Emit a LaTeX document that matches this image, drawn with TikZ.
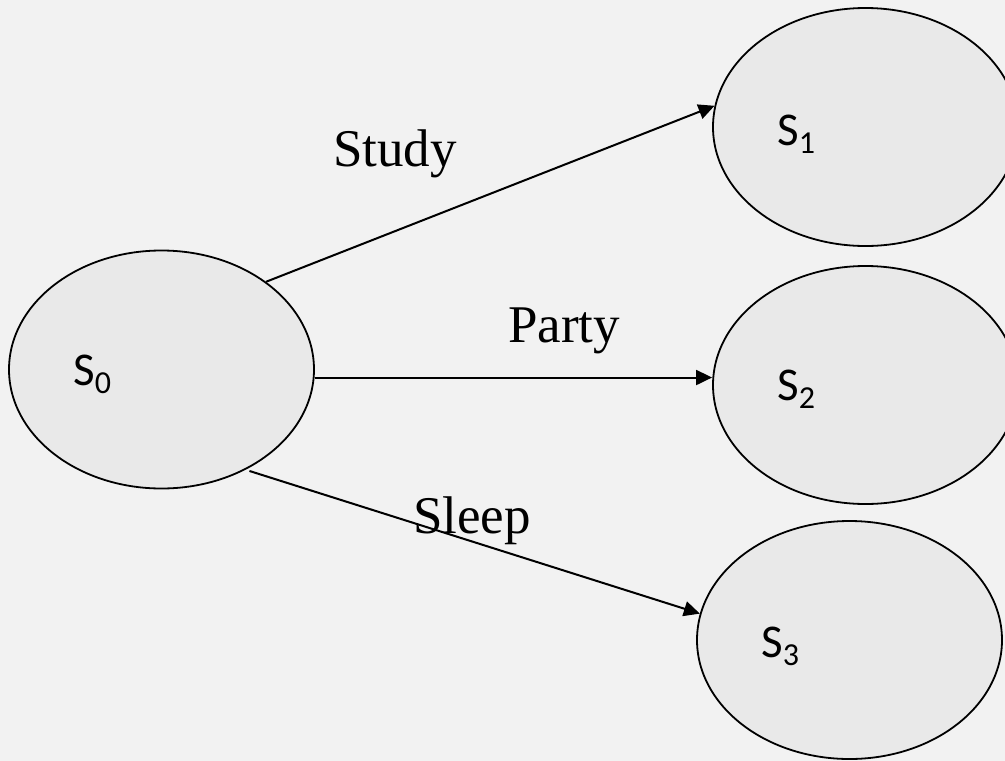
\documentclass[tikz,border=0pt]{standalone}
\usepackage{fontspec}
\setmainfont{Liberation Serif}
\newfontfamily\statefont{Carlito}
\usetikzlibrary{shapes.geometric,arrows.meta}
\definecolor{pagebg}{HTML}{F2F2F2}
\definecolor{stfill}{HTML}{E9E9E9}
% state name: S with a lowered index
\newcommand{\stname}[1]{{\statefont\fontsize{47}{50}\selectfont S\raisebox{-8pt}{\fontsize{32}{34}\selectfont #1}}}
\begin{document}
\begin{tikzpicture}[x=1pt,y=-1pt,
  state/.style={ellipse, draw=black, line width=1.8pt, fill=stfill,
    minimum width=305pt, minimum height=238pt, inner sep=0pt},
  stlabel/.style={anchor=base west, inner sep=0pt},
  act/.style={anchor=base west, inner sep=0pt, font=\fontsize{53}{60}\selectfont},
  trans/.style={line width=2pt, -{Triangle[length=16pt,width=15pt]}}]
  \fill[pagebg] (0,0) rectangle (1005,761);
  \useasboundingbox (0,0) rectangle (1005,761);

  % states
  \node[state] (s0) at (161.5,369.5) {};
  \node[state] (s1) at (865.5,127) {};
  \node[state] (s2) at (865.5,385) {};
  \node[state] (s3) at (849.5,640) {};

  \node[stlabel] (t0) at (73,385) {\stname{0}};
  \node[stlabel] (t1) at (777,145) {\stname{1}};
  \node[stlabel] (t2) at (777,400) {\stname{2}};
  \node[stlabel] (t3) at (761,657) {\stname{3}};

  % transitions
  \draw[trans] (s0.40) -- (s1.172);
  \draw[trans] (s0.-3) -- (s0.-3 -| s2.west);
  \draw[trans, shorten <=4pt] (s0.-50) -- (s3.170.7);

  % action labels
  \node[act] (study) at (333,166) {Study};
  \node[act] (party) at (508,342) {Party};
  \node[act] (sleep) at (413,533) {Sleep};
\end{tikzpicture}
\end{document}
